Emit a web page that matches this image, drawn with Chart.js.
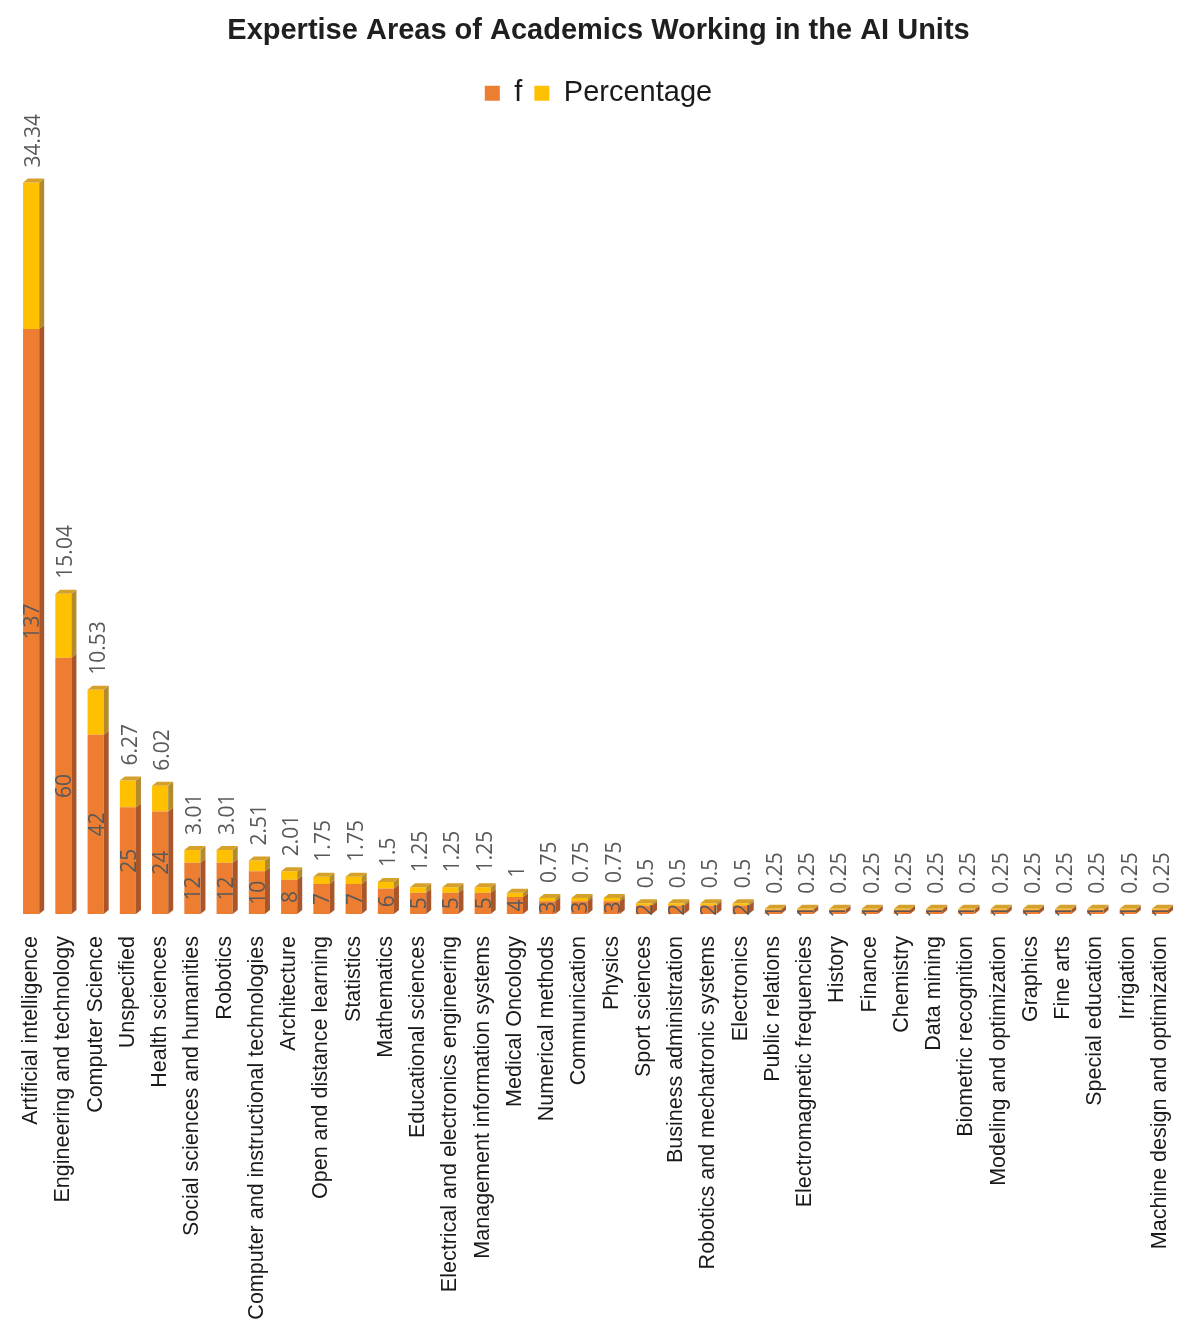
<!DOCTYPE html>
<html><head><meta charset="utf-8">
<script src="https://cdn.jsdelivr.net/npm/chart.js@4.4.1/dist/chart.umd.min.js"></script>
<style>html,body{margin:0;padding:0;background:#fff;} #wrap{width:1200px;height:1340px;position:relative;}</style>
</head><body><div id="wrap"><canvas id="c"></canvas></div>
<script>
const categories = [
  'Artificial intelligence','Engineering and technology','Computer Science','Unspecified','Health sciences',
  'Social sciences and humanities','Robotics','Computer and instructional technologies','Architecture',
  'Open and distance learning','Statistics','Mathematics','Educational sciences',
  'Electrical and electronics engineering','Management information systems','Medical Oncology',
  'Numerical methods','Communication','Physics','Sport sciences','Business administration',
  'Robotics and mechatronic systems','Electronics','Public relations','Electromagnetic frequencies',
  'History','Finance','Chemistry','Data mining','Biometric recognition','Modeling and optimization',
  'Graphics','Fine arts','Special education','Irrigation','Machine design and optimization'
];
const fValues = [137,60,42,25,24,12,12,10,8,7,7,6,5,5,5,4,3,3,3,2,2,2,2,1,1,1,1,1,1,1,1,1,1,1,1,1];
const percentageValues = [34.34,15.04,10.53,6.27,6.02,3.01,3.01,2.51,2.01,1.75,1.75,1.5,1.25,1.25,1.25,1,
  0.75,0.75,0.75,0.5,0.5,0.5,0.5,0.25,0.25,0.25,0.25,0.25,0.25,0.25,0.25,0.25,0.25,0.25,0.25,0.25];
const seriesNames = ['f','Percentage'];
const frontColors = ['#ED7D31','#FFC000'];
const sideColors = ['#A9572A','#B38A2C'];
const topColor = '#D6A12A';
const titleText = 'Expertise Areas of Academics Working in the AI Units';

const depthPlugin = {
  id: 'depth3d',
  afterDatasetsDraw(chart) {
    const ctx = chart.ctx, dx = 5, dy = 4;
    const n = chart.data.datasets.length;
    ctx.save();
    chart.data.datasets.forEach((ds, di) => {
      const meta = chart.getDatasetMeta(di);
      meta.data.forEach((bar) => {
        const p = bar.getProps(['x','y','base','width'], true);
        const l = p.x - p.width/2, r = p.x + p.width/2;
        ctx.fillStyle = sideColors[di];
        ctx.beginPath();
        ctx.moveTo(r, p.y); ctx.lineTo(r+dx, p.y-dy); ctx.lineTo(r+dx, p.base-dy); ctx.lineTo(r, p.base);
        ctx.closePath(); ctx.fill();
        if (di === n-1) {
          ctx.fillStyle = topColor;
          ctx.beginPath();
          ctx.moveTo(l, p.y); ctx.lineTo(l+dx, p.y-dy); ctx.lineTo(r+dx, p.y-dy); ctx.lineTo(r, p.y);
          ctx.closePath(); ctx.fill();
        }
      });
    });
    // labels
    ctx.fillStyle = '#595959';
    ctx.font = '21px "Open Sans", "Liberation Sans", sans-serif';
    ctx.textBaseline = 'middle';
    const m0 = chart.getDatasetMeta(0), m1 = chart.getDatasetMeta(1);
    m0.data.forEach((bar, i) => {
      const p = bar.getProps(['x','y','base'], true);
      ctx.save();
      ctx.translate(p.x + 2, (p.y + p.base)/2);
      ctx.rotate(-Math.PI/2);
      ctx.textAlign = 'center';
      ctx.fillText(String(fValues[i]), 0, 0);
      ctx.restore();
    });
    m1.data.forEach((bar, i) => {
      const p = bar.getProps(['x','y'], true);
      ctx.save();
      ctx.translate(p.x + 3, p.y - 15);
      ctx.rotate(-Math.PI/2);
      ctx.textAlign = 'left';
      ctx.fillText(String(percentageValues[i]), 0, 0);
      ctx.restore();
    });
    ctx.restore();
  }
};

new Chart(document.getElementById('c'), {
  type: 'bar',
  data: {
    labels: categories,
    datasets: [
      { label: seriesNames[0], data: fValues, backgroundColor: frontColors[0], borderWidth: 0,
        categoryPercentage: 1, barPercentage: 0.5 },
      { label: seriesNames[1], data: percentageValues, backgroundColor: frontColors[1], borderWidth: 0,
        categoryPercentage: 1, barPercentage: 0.5 }
    ]
  },
  options: {
    responsive: true,
    maintainAspectRatio: false,
    animation: false,
    devicePixelRatio: 1,
    layout: { padding: { left: 15, right: 18, top: 0, bottom: 10 } },
    plugins: {
      title: { display: true, text: titleText, color: '#1f1f1f',
        font: { family: '"Liberation Sans", Arial, sans-serif', size: 29, weight: 'bold' },
        padding: { top: 14, bottom: 18 } },
      legend: { display: true, position: 'top',
        labels: { boxWidth: 15, boxHeight: 15, padding: 12, color: '#1a1a1a',
          font: { family: '"Liberation Sans", Arial, sans-serif', size: 29 } } },
      tooltip: { enabled: false }
    },
    scales: {
      x: { stacked: true,
        grid: { display: false }, border: { display: false },
        ticks: { autoSkip: false, minRotation: 90, maxRotation: 90, padding: 14, color: '#1a1a1a',
          font: { family: '"Liberation Sans", Arial, sans-serif', size: 21.5 } },
        afterFit(s) { s.height = 416; } },
      y: { stacked: true, display: false, min: 0, max: 186.5 }
    }
  },
  plugins: [depthPlugin]
});
</script></body></html>
